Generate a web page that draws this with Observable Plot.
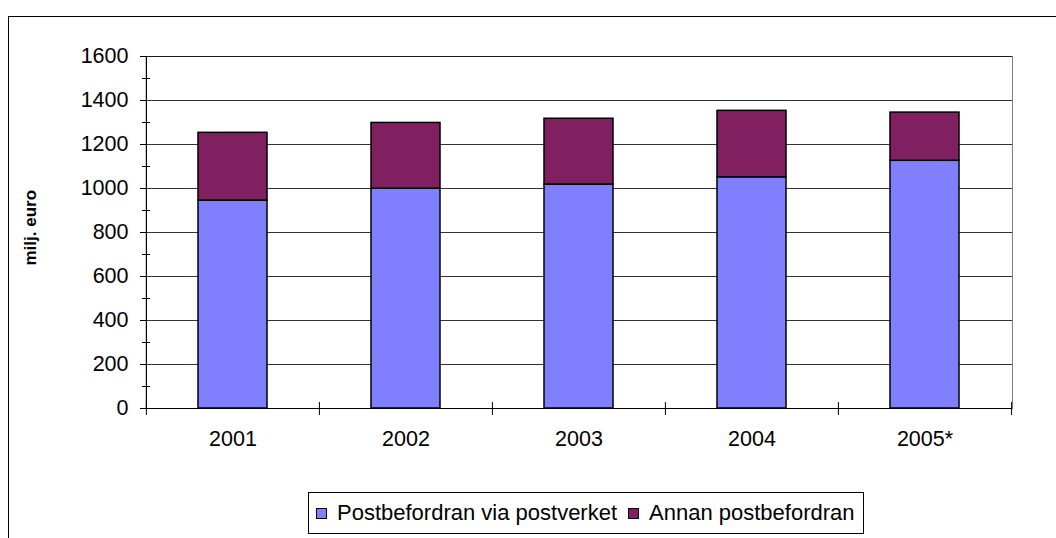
<!DOCTYPE html>
<html>
<head>
<meta charset="utf-8">
<script src="https://cdn.jsdelivr.net/npm/d3@7"></script>
<script src="https://cdn.jsdelivr.net/npm/@observablehq/plot@0.6"></script>
<style>
  html, body { margin: 0; padding: 0; background: #fff; }
  #wrap { position: relative; width: 1056px; height: 538px; overflow: hidden; font-family: "Liberation Sans", Arial, sans-serif; }
  #outer { position: absolute; left: 8px; top: 16px; width: 1100px; height: 600px; border: 1px solid #000; box-sizing: border-box; }
  #chart { position: absolute; left: 0; top: 0; }
  #legend { position: absolute; left: 308px; top: 492px; width: 556px; height: 42px; border: 1px solid #000; box-sizing: border-box; background: #fff;
            display: flex; align-items: center; padding-left: 7px; font-size: 22px; color: #000; white-space: nowrap; }
  .sw { width: 11px; height: 11px; border: 1px solid #000; box-sizing: border-box; display: inline-block; margin-right: 10px; }
  .item { display: flex; align-items: center; margin-right: 11px; }
</style>
</head>
<body>
<div id="wrap">
  <div id="outer"></div>
  <div id="chart"></div>
  <div id="legend"></div>
</div>
<script>
const years = ["2001", "2002", "2003", "2004", "2005*"];
const seriesNames = ["Postbefordran via postverket", "Annan postbefordran"];
const postverket = [945, 999, 1018, 1051, 1126];
const annan = [308, 299, 299, 302, 219];
const seriesColors = ["#8080ff", "#802060"];
const yTicks = [0, 200, 400, 600, 800, 1000, 1200, 1400, 1600];
const yMinorTicks = [100, 300, 500, 700, 900, 1100, 1300, 1500];
const yLabel = "milj. euro";

const table = [];
years.forEach((y, i) => {
  table.push({year: y, series: seriesNames[0], value: postverket[i]});
  table.push({year: y, series: seriesNames[1], value: annan[i]});
});

const W = 1056, H = 538;
const mL = 146, mR = 44, mT = 56, mB = 130;
const half = (W - mL - mR) / years.length / 2;

const chart = Plot.plot({
  width: W,
  height: H,
  marginLeft: mL,
  marginRight: mR,
  marginTop: mT,
  marginBottom: mB,
  style: {fontFamily: "'Liberation Sans', Arial, sans-serif", background: "transparent", overflow: "visible"},
  x: {domain: years, paddingInner: 0.6, paddingOuter: 0.3, label: null},
  y: {domain: [0, 1600], label: null},
  color: {domain: seriesNames, range: seriesColors},
  marks: [
    Plot.frame({stroke: "#808080", strokeWidth: 1}),
    Plot.gridY(yTicks, {stroke: "#000", strokeOpacity: 0.8, strokeWidth: 1}),
    Plot.barY(table, {x: "year", y: "value", fill: "series", order: seriesNames, stroke: "#000", strokeWidth: 1.5}),
    Plot.ruleY([0], {stroke: "#000", strokeWidth: 1.2}),
    Plot.ruleX([years[0]], {dx: -half, stroke: "#000", strokeWidth: 1.2}),
    Plot.axisY({ticks: yTicks, tickSize: 6, tickPadding: 12, tickFormat: d3.format("d"), fontSize: 21.5, fill: "#000", stroke: "#000", label: null}),
    Plot.axisY({ticks: yMinorTicks, tickSize: 8, dx: 4, tickFormat: () => "", stroke: "#000", label: null}),
    Plot.axisX({tickSize: 0, tickPadding: 22, fontSize: 21.5, fill: "#000", label: null}),
    Plot.axisX({tickSize: 13, dy: -6, dx: -half, tickFormat: () => "", stroke: "#000", label: null}),
    Plot.axisX({ticks: [years[years.length - 1]], tickSize: 13, dy: -6, dx: half, tickFormat: () => "", stroke: "#000", label: null}),
    Plot.text([yLabel], {frameAnchor: "left", dx: -116, dy: 33, rotate: -90, fontSize: 17, fontWeight: "bold", fill: "#000"})
  ]
});
document.getElementById("chart").appendChild(chart);

const legend = document.getElementById("legend");
seriesNames.forEach((name, i) => {
  const item = document.createElement("span");
  item.className = "item";
  const sw = document.createElement("span");
  sw.className = "sw";
  sw.style.background = seriesColors[i];
  item.appendChild(sw);
  item.appendChild(document.createTextNode(name));
  legend.appendChild(item);
});
</script>
</body>
</html>
